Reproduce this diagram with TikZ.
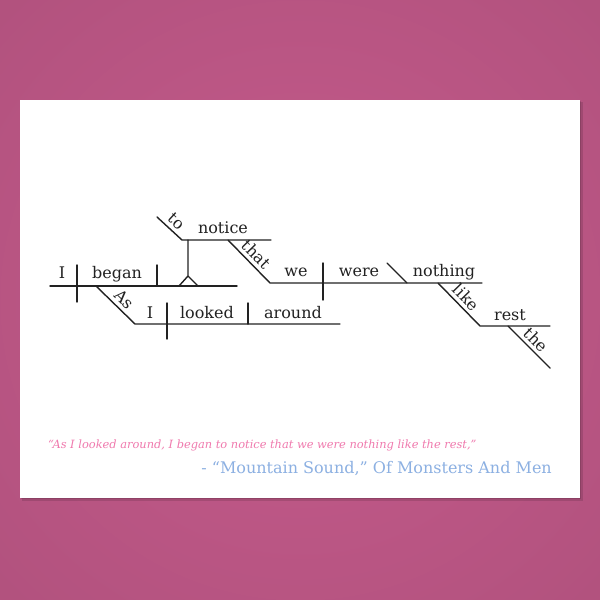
\documentclass[tikz,border=0pt]{standalone}
\usepackage{fontspec}
\setmainfont{DejaVu Serif}
\usepackage{tikz}
\usetikzlibrary{calc}
\definecolor{bgin}{HTML}{C65B8C}
\definecolor{bgout}{HTML}{A94E78}
\definecolor{quotepink}{HTML}{F07AAE}
\definecolor{songblue}{HTML}{8CB0E2}
\definecolor{ink}{HTML}{222222}
\pgfdeclareradialshading{bgglow}{\pgfpoint{0bp}{0bp}}{color(0bp)=(bgin); color(50bp)=(bgout); color(75bp)=(bgout)}
\tikzset{
  rule/.style={line width=1.4pt, line cap=round, draw=ink},
  word/.style={font=\fontsize{16}{18}\selectfont, text=ink, anchor=base, inner sep=0pt},
  slant/.style={font=\fontsize{16}{18}\selectfont, text=ink, inner sep=4pt}
}

\begin{document}
\begin{tikzpicture}[x=1pt,y=-1pt]
  \useasboundingbox (0,0) rectangle (600,600);
  % background and card
  \shade[shading=bgglow] (0,0) rectangle (600,600);
  \fill[black,opacity=0.12] (22,102) rectangle (583,501);
  \fill[black,opacity=0.12] (21,101) rectangle (581,499);
  \fill[white] (20,100) rectangle (580,498);
  % main clause: I began
  \coordinate (mainL) at (50,286);
  \coordinate (mainR) at (237,286);
  \coordinate (subjT) at (77,265);
  \coordinate (subjB) at (77,302);
  \coordinate (objT) at (157,265);
  \coordinate (objB) at (157,286);
  \draw[rule] (mainL)--(mainR);
  \draw[rule] (subjT)--(subjB) (objT)--(objB);
  \node[word] (wI) at (62,278) {I};
  \node[word] (wBegan) at (117,278) {began};
  % stilt with the infinitive: to notice
  \coordinate (stiltT) at (188,240);
  \coordinate (stiltA) at (188,276);
  \coordinate (footL) at (179,286);
  \coordinate (footR) at (198,286);
  \draw[rule] (stiltT)--(stiltA) (footL)--(stiltA)--(footR);
  \coordinate (toT) at (157,217);
  \coordinate (noticeL) at (182,240);
  \coordinate (noticeR) at (271,240);
  \draw[rule] (toT)--(noticeL)--(noticeR);
  \path (toT)--(noticeL) node[slant,midway,sloped,above] (wTo) {to};
  \node[word] (wNotice) at (223,233) {notice};
  % that we were nothing
  \coordinate (thatT) at (228,240);
  \coordinate (clauseL) at (270,283);
  \coordinate (clauseR) at (482,283);
  \draw[rule] (thatT)--(clauseL)--(clauseR);
  \path (thatT)--(clauseL) node[slant,midway,sloped,above] (wThat) {that};
  \coordinate (weT) at (323,263);
  \coordinate (weB) at (323,300);
  \draw[rule] (weT)--(weB);
  \coordinate (complT) at (387,263);
  \coordinate (complB) at (407,283);
  \draw[rule] (complT)--(complB);
  \node[word] (wWe) at (296,276) {we};
  \node[word] (wWere) at (359,276) {were};
  \node[word] (wNothing) at (444,276) {nothing};
  % like the rest
  \coordinate (likeT) at (438,283);
  \coordinate (restL) at (480,326);
  \coordinate (restR) at (550,326);
  \draw[rule] (likeT)--(restL)--(restR);
  \path (likeT)--(restL) node[slant,midway,sloped,above] (wLike) {like};
  \node[word] (wRest) at (510,320) {rest};
  \coordinate (theT) at (508,326);
  \coordinate (theB) at (550,368);
  \draw[rule] (theT)--(theB);
  \path (theT)--(theB) node[slant,midway,sloped,above] (wThe) {the};
  % As I looked around
  \coordinate (asT) at (96,286);
  \coordinate (subL) at (135,324);
  \coordinate (subR) at (340,324);
  \draw[rule] (asT)--(subL)--(subR);
  \path (asT)--(subL) node[slant,pos=0.55,sloped,above] (wAs) {As};
  \coordinate (sdivT) at (167,303);
  \coordinate (sdivB) at (167,339);
  \coordinate (vdivT) at (248,303);
  \coordinate (vdivB) at (248,324);
  \draw[rule] (sdivT)--(sdivB) (vdivT)--(vdivB);
  \node[word] (wI2) at (150,318) {I};
  \node[word] (wLooked) at (207,318) {looked};
  \node[word] (wAround) at (293,318) {around};
  % quote and source
  \node[anchor=base west,inner sep=0pt,text=quotepink,font=\itshape\fontsize{11.4}{13}\selectfont] (quote) at (48,448)
    {“As I looked around, I began to notice that we were nothing like the rest,”};
  \node[anchor=base east,inner sep=0pt,text=songblue,font=\fontsize{16}{18}\selectfont] (source) at (552,473)
    {- “Mountain Sound,” Of Monsters And Men};
\end{tikzpicture}
\end{document}
